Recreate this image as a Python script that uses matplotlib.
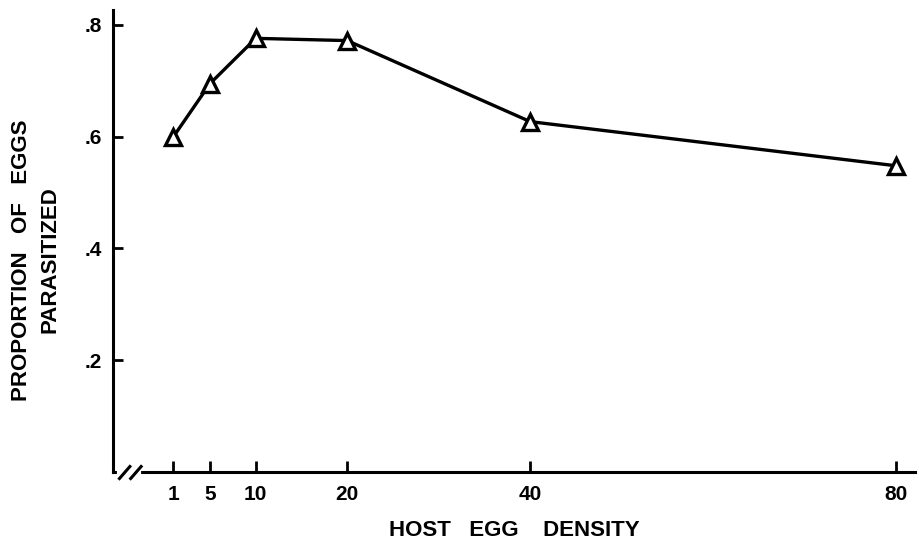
import matplotlib.pyplot as plt

density = [1, 5, 10, 20, 40, 80]
proportion = [0.600, 0.695, 0.776, 0.772, 0.627, 0.548]

xticks = [1, 5, 10, 20, 40, 80]
xtick_labels = ["1", "5", "10", "20", "40", "80"]
yticks = [0.2, 0.4, 0.6, 0.8]
ytick_labels = [".2", ".4", ".6", ".8"]

plt.rcParams['font.family'] = ['Liberation Sans', 'DejaVu Sans']
plt.rcParams['font.weight'] = 'bold'

fig = plt.figure(figsize=(9.19, 5.47), dpi=100)
ax = fig.add_axes([0.123, 0.137, 0.873, 0.845])

ax.plot(density, proportion, color='black', lw=2.4, marker='^',
        markersize=11, markerfacecolor='white', markeredgecolor='black',
        markeredgewidth=2.4, zorder=3)

ax.set_xlim(-5.6, 82.1)
ax.set_ylim(0, 0.827)

ax.spines['top'].set_visible(False)
ax.spines['right'].set_visible(False)
ax.spines['left'].set_linewidth(2.2)
ax.spines['bottom'].set_linewidth(2.2)

ax.set_xticks(xticks)
ax.set_xticklabels(xtick_labels)
ax.set_yticks(yticks)
ax.set_yticklabels(ytick_labels)
ax.tick_params(axis='x', direction='in', length=8, width=2, pad=9, labelsize=15)
ax.tick_params(axis='y', direction='in', length=7, width=2, pad=8, labelsize=15)

# axis break on x
ax.plot([0.008, 0.032], [0, 0], transform=ax.transAxes, color='white',
        lw=3, clip_on=False, zorder=4)
for x0 in [0.008, 0.022]:
    ax.plot([x0, x0 + 0.013], [-0.014, 0.012], transform=ax.transAxes,
            color='black', lw=2.2, clip_on=False, zorder=5)

ax.set_xlabel("HOST   EGG    DENSITY", fontsize=16, fontweight='bold', labelpad=12)
fig.text(0.039, 0.525, "PROPORTION   OF   EGGS\nPARASITIZED", rotation=90,
         ha='center', va='center', fontsize=16, fontweight='bold',
         linespacing=1.5, multialignment='center')

fig.savefig("out.png", dpi=100)
